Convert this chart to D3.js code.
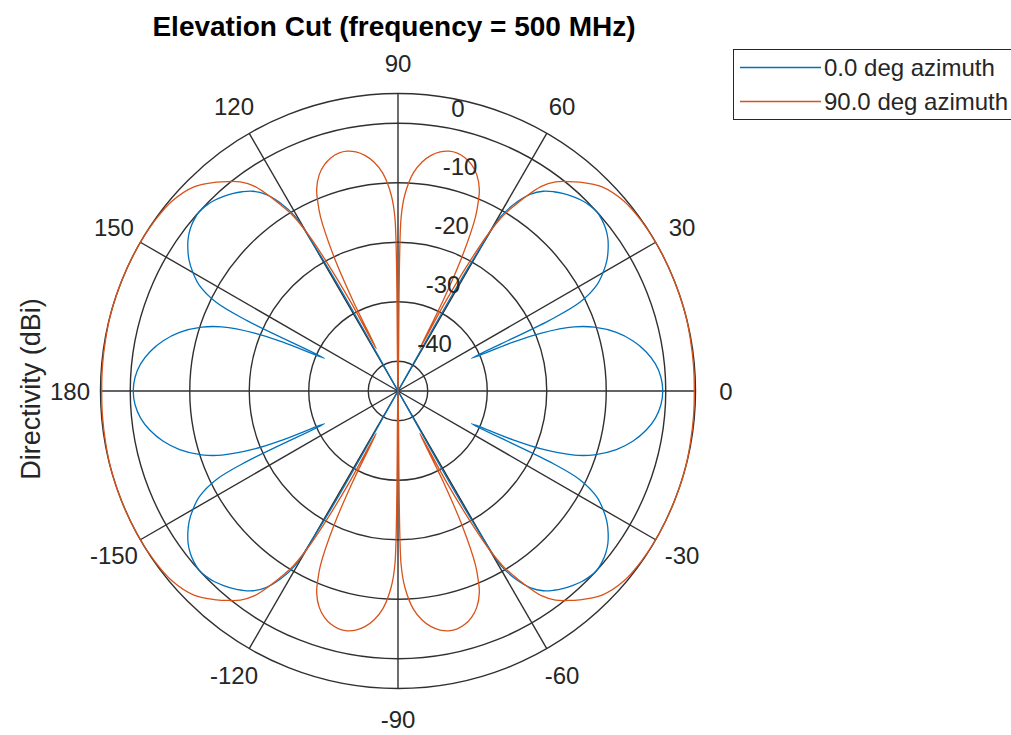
<!DOCTYPE html>
<html><head><meta charset="utf-8">
<script src="https://cdn.jsdelivr.net/npm/d3@7"></script>
<style>body{margin:0;background:#fff} svg{display:block} text{font-family:"Liberation Sans",Arial,Helvetica,sans-serif;fill:#262626}</style>
</head><body><svg id="c" width="1011" height="735"></svg>
<script>
const titleText = "Elevation Cut (frequency = 500 MHz)";
const yLabelText = "Directivity (dBi)";
const seriesNames = ["0.0 deg azimuth", "90.0 deg azimuth"];
const seriesColors = ["#0072BD", "#D95319"];
const angleTicks = [0, 30, 60, 90, 120, 150, 180, -150, -120, -90, -60, -30];
const magTicks = [-40, -30, -20, -10, 0];
const magLimits = [-45, 5];

// 0.0 deg azimuth (elevation angle in degrees, directivity in dBi)
const blueAngles = [-180,-177,-174,-171,-168,-165,-162,-160,-158,-157,-156,-155,-154,-152,-150,-148,-146,-144,-142,-140,-138,-136,-134,-132,-130,-128,-126,-124,-122,-120.5,-120,-119.5,-119,-90,
 -61,-60.5,-60,-59.5,-58,-56,-54,-52,-50,-48,-46,-44,-42,-40,-38,-36,-34,-32,-30,-28,-26,-25,-24,-23,-22,-20,-18,-15,-12,-9,-6,-3,
 0,3,6,9,12,15,18,20,22,23,24,25,26,28,30,32,34,36,38,40,42,44,46,48,50,52,54,56,58,59.5,60,60.5,61,90,
 119,119.5,120,120.5,122,124,126,128,130,132,134,136,138,140,142,144,146,148,150,152,154,155,156,157,158,160,162,165,168,171,174,177];
const blueDb = [-0.5,-0.75,-1.5,-2.8,-4.6,-7,-10.3,-13.5,-19,-24,-31.5,-17,-11,-7.2,-5.2,-3.6,-2.4,-1.4,-0.7,-0.25,0.0,-0.15,-0.5,-1.05,-1.7,-2.5,-3.5,-5.1,-7.8,-11,-16,-24,-45,-45,
 -45,-24,-16,-11,-7.8,-5.1,-3.5,-2.5,-1.7,-1.05,-0.5,-0.15,0.0,-0.25,-0.7,-1.4,-2.4,-3.6,-5.2,-7.2,-11,-17,-31.5,-24,-19,-13.5,-10.3,-7,-4.6,-2.8,-1.5,-0.75,
 -0.5,-0.75,-1.5,-2.8,-4.6,-7,-10.3,-13.5,-19,-24,-31.5,-17,-11,-7.2,-5.2,-3.6,-2.4,-1.4,-0.7,-0.25,0.0,-0.15,-0.5,-1.05,-1.7,-2.5,-3.5,-5.1,-7.8,-11,-16,-24,-45,-45,
 -45,-24,-16,-11,-7.8,-5.1,-3.5,-2.5,-1.7,-1.05,-0.5,-0.15,0.0,-0.25,-0.7,-1.4,-2.4,-3.6,-5.2,-7.2,-11,-17,-31.5,-24,-19,-13.5,-10.3,-7,-4.6,-2.8,-1.5,-0.75];

// 90.0 deg azimuth
const orangeAngles = [-180,-175,-170,-165,-160,-155,-150,-145,-140,-135,-131,-129,-127,-125,-123,-122,-121,-120,-119,-118,-117.2,-116.5,-115.5,-114,-113,-112,-110,-108,-106,-104,-102,-100,-98,-96,-94,-92,-91,-90,
 -89,-88,-86,-84,-82,-80,-78,-76,-74,-72,-70,-68,-67,-66,-64.5,-63.5,-62.8,-62,-61,-60,-59,-58,-57,-55,-53,-51,-49,-45,-40,-35,-30,-25,-20,-15,-10,-5,
 0,5,10,15,20,25,30,35,40,45,49,51,53,55,57,58,59,60,61,62,62.8,63.5,64.5,66,67,68,70,72,74,76,78,80,82,84,86,88,89,90,
 91,92,94,96,98,100,102,104,106,108,110,112,113,114,115.5,116.5,117.2,118,119,120,121,122,123,125,127,129,131,135,140,145,150,155,160,165,170,175];
const orangeDb = [4.8,4.85,4.9,5.0,5.0,5.0,5.0,4.9,4.6,3.5,1.5,0.3,-1.0,-3.0,-6.5,-8.5,-10.5,-14,-20,-28,-37,-28,-20,-13,-10.5,-8.5,-6.3,-5,-4.2,-3.8,-3.8,-4.2,-5,-6.3,-8.3,-12,-16,-45,
 -16,-12,-8.3,-6.3,-5,-4.2,-3.8,-3.8,-4.2,-5,-6.3,-8.5,-10.5,-13,-20,-28,-37,-28,-20,-14,-10.5,-8.5,-6.5,-3.0,-1.0,0.3,1.5,3.5,4.6,4.9,5.0,5.0,5.0,5.0,4.9,4.85,
 4.8,4.85,4.9,5.0,5.0,5.0,5.0,4.9,4.6,3.5,1.5,0.3,-1.0,-3.0,-6.5,-8.5,-10.5,-14,-20,-28,-37,-28,-20,-13,-10.5,-8.5,-6.3,-5,-4.2,-3.8,-3.8,-4.2,-5,-6.3,-8.3,-12,-16,-45,
 -16,-12,-8.3,-6.3,-5,-4.2,-3.8,-3.8,-4.2,-5,-6.3,-8.5,-10.5,-13,-20,-28,-37,-28,-20,-14,-10.5,-8.5,-6.5,-3.0,-1.0,0.3,1.5,3.5,4.6,4.9,5.0,5.0,5.0,5.0,4.9,4.85];

const svg = d3.select("#c");
const cx = 398, cy = 391, R = 297.5;
const r = d3.scaleLinear().domain(magLimits).range([0, R]).clamp(true);
const toRad = d => d * Math.PI / 180;
const g = svg.append("g").attr("transform", `translate(${cx},${cy})`);
const gridColor = "#303030";

// rings
g.selectAll("circle.ring").data(magTicks.concat([magLimits[1]])).enter().append("circle")
  .attr("r", d => r(d)).attr("fill", "none").attr("stroke", gridColor).attr("stroke-width", 1.4);
// spokes
g.selectAll("line.spoke").data(angleTicks).enter().append("line")
  .attr("x1", 0).attr("y1", 0)
  .attr("x2", d => r(magLimits[1]) * Math.cos(toRad(d)))
  .attr("y2", d => -r(magLimits[1]) * Math.sin(toRad(d)))
  .attr("stroke", gridColor).attr("stroke-width", 1.4);

// curves
const series = [
  {name: seriesNames[0], color: seriesColors[0], pts: blueAngles.map((a, i) => ({a, v: blueDb[i]}))},
  {name: seriesNames[1], color: seriesColors[1], pts: orangeAngles.map((a, i) => ({a, v: orangeDb[i]}))}
];
const line = d3.lineRadial().angle(d => toRad(90 - d.a)).radius(d => r(d.v)).curve(d3.curveCatmullRomClosed.alpha(0.5));
g.selectAll("path.s").data(series).enter().append("path")
  .attr("d", d => line(d.pts)).attr("fill", "none").attr("stroke", d => d.color).attr("stroke-width", 1.3);

// angle labels
const labR = 328;
g.selectAll("text.ang").data(angleTicks).enter().append("text")
  .attr("x", d => labR * Math.cos(toRad(d)))
  .attr("y", d => -labR * Math.sin(toRad(d)))
  .attr("text-anchor", "middle").attr("dominant-baseline", "central")
  .style("font-size", "24px").text(d => d);

// magnitude labels
const magA = toRad(81.8);
g.selectAll("text.mag").data(magTicks).enter().append("text")
  .attr("x", d => r(d) * Math.cos(magA) + 15)
  .attr("y", d => -r(d) * Math.sin(magA) - 18)
  .attr("text-anchor", "start").attr("dominant-baseline", "central")
  .style("font-size", "24px").text(d => d);

// title
svg.append("text").attr("x", 394).attr("y", 36).attr("text-anchor", "middle")
  .style("font-size", "28px").style("font-weight", "bold").style("fill", "#000").text(titleText);
// y label
svg.append("text").attr("transform", `translate(40,${cy - 2}) rotate(-90)`).attr("text-anchor", "middle")
  .style("font-size", "27px").text(yLabelText);

// legend
const lg = svg.append("g");
lg.append("rect").attr("x", 733.5).attr("y", 49.5).attr("width", 320).attr("height", 70)
  .attr("fill", "#fff").attr("stroke", "#262626").attr("stroke-width", 1);
series.forEach((s, i) => {
  const y = 67.5 + i * 34;
  lg.append("line").attr("x1", 740).attr("x2", 821).attr("y1", y).attr("y2", y)
    .attr("stroke", s.color).attr("stroke-width", 1.3);
  lg.append("text").attr("x", 824).attr("y", y).attr("dominant-baseline", "central")
    .style("font-size", "24px").text(s.name);
});
</script></body></html>
